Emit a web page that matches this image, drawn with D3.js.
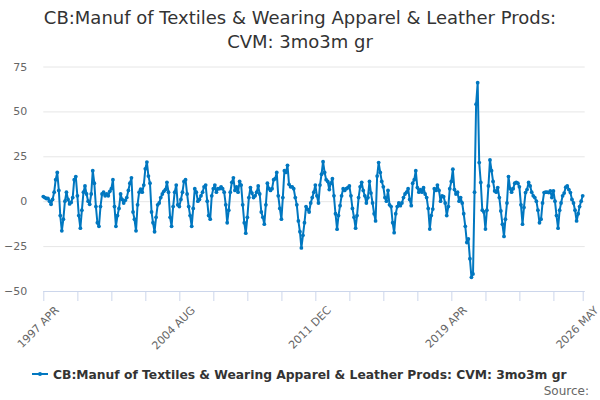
<!DOCTYPE html>
<html>
<head>
<meta charset="utf-8">
<script src="https://cdn.jsdelivr.net/npm/d3@7"></script>
<style>
	body { margin: 0; background: #fff; }
	text { font-family: "DejaVu Sans", sans-serif; }
</style>
</head>
<body>
<div class="canvas"></div>
<script>
const titleLines = ['CB:Manuf of Textiles & Wearing Apparel & Leather Prods:', 'CVM: 3mo3m gr'];
const seriesName = 'CB:Manuf of Textiles & Wearing Apparel & Leather Prods: CVM: 3mo3m gr';

// first observation, monthly after that
const startYear = 1997;
const startMonth = 3; // April (0-based)

// month-on-month values, 1997 APR .. 2026 MAY
const values = [
	2.6, 2, 1.5, 1.5, 0, -1.7, 1, 5, 12, 16, 6, -8,
	-16.5, -10, 0, 5, 1, -1.5, -0.7, 2, 12, 13.7, 3, -8,
	-15, -5, 5, 8.5, 4, 0, -1.7, 4, 17, 10, -3, -12,
	-14, -3, 4, 5, 3, 4, 3, 5.5, 7, 12, -3, -14,
	-8, -4, 4, 1, -1, 0.5, 2, 6, 10, 13, -6, -10,
	-16.5, -2, 5, 6.7, 5, 9, 18, 21.8, 14, 10, -6, -12,
	-17, -9, -2, -1, 2, 4, 5.5, 6.5, 10.5, 5, -9, -14,
	-3, 5, 9, -2, -3, 1, 5, 11, 12, 4, -3, -8,
	-14, -4, 7, 5, 0, 1, 3, 5, 8, 9, 0, -8,
	-10, 3, 7, 9, 5, 7, 7, 8, 7, 5, -2, -12,
	-5, 5, 10.5, 13, 6, 8, 5, 11, 9, -2, -12, -17.8,
	-9, 2, 7.6, 4.5, 2, 3, 5, 8.5, 4, -6, -9, -12.8,
	-2, 10, 7, 6, 7, 12, 12.5, 16, 3, -4, -10, 2,
	17, 16, 20, 9.4, 8, 8, 7, 2, -2, -11, -17, -26,
	-19, -12, -3, -4.5, -6, -1, 2, 5, 9, 3, -1, 9,
	15, 22, 16, 12, 11, 6.5, 10, 12.5, 3, -7, -15.6, -8,
	-2.5, 3, 7, 6, 7, 7.5, 8.5, 3, -4, -9, -15, -8,
	2, 8, 10.5, 6, 3, -1, 2, 11, 4.5, -1, -7, -11,
	14, 21.5, 16, 11, 8, 2, 0, 6, -2, -3, -12, -17.5,
	-7, -3, -1, -2.5, -1, 2, 4, 5, 7, 1, -2.5, 10,
	12, 17, 7.6, 5, 6.5, 5, 7.5, 4, 2, -4, -15.5, -8,
	-4.4, 7, 6, 9, 6, 0, 3, 2.5, -1, -8, -3, 7,
	11, 17.8, 6.5, 4, 5, 0, 2, -1, -7, -14, -23, -21,
	-32, -42.4, -40.5, 5, 54, 66, 21.5, 10.4, -5, -6, -15.5, -5,
	8.5, 23, 17, 11, 5.7, 5, 7.6, 2, -5.4, -12.8, -19.6, -10,
	-1, 13.7, 7, 5, 7, 10, 10.5, 10, 8, -2, -12.8, -3.5,
	4.8, 6.5, 10.4, 8.5, 5, 3, 2, 0, -5, -12, -10, -1,
	4.8, 5, 5, 4.8, 5.7, 2, 5.7, 0, -8, -15, -5, -1,
	3, 4.5, 7.8, 8.5, 6.5, 4.8, 1, -1, -5, -11, -7, -3,
	0, 3
];

const yTicks = [-50, -25, 0, 25, 50, 75];
const xTickStep = 22;   // months between tick marks
const xLabelStep = 88;  // months between labels
const monthNames = ['JAN', 'FEB', 'MAR', 'APR', 'MAY', 'JUN', 'JUL', 'AUG', 'SEP', 'OCT', 'NOV', 'DEC'];

const dims = { width: 600, height: 400 };
const plot = { left: 43.3, right: 582.7, top: 66.5, bottom: 291 };

const data = values.map((v, i) => ({ date: new Date(startYear, startMonth + i, 1), value: v }));
const lastIndex = values.length - 1;

const svg = d3.select('.canvas').append('svg')
	.attr('width', dims.width)
	.attr('height', dims.height);

const x = d3.scaleTime()
	.domain([data[0].date, data[lastIndex].date])
	.range([plot.left, plot.right]);

const y = d3.scaleLinear()
	.domain([-50, 75])
	.range([plot.bottom, plot.top]);

// title
svg.append('text')
	.attr('x', dims.width / 2)
	.attr('y', 24)
	.attr('text-anchor', 'middle')
	.attr('fill', '#333')
	.attr('font-size', 18)
	.selectAll('tspan')
	.data(titleLines)
	.enter().append('tspan')
	.attr('x', dims.width / 2)
	.attr('dy', (d, i) => i ? 24 : 0)
	.text(d => d);

// gridlines + y labels
const yAxis = svg.append('g')
	.attr('transform', `translate(${plot.left}, 0)`)
	.call(d3.axisLeft(y).tickValues(yTicks).tickSize(-(plot.right - plot.left + 2)).tickPadding(16));

yAxis.select('.domain').remove();
yAxis.selectAll('line').attr('stroke', '#e6e6e6');
yAxis.selectAll('text')
	.attr('fill', '#666')
	.attr('font-size', 11)
	.attr('font-family', '"DejaVu Sans", sans-serif');

// x axis
const tickIdx = d3.range(0, lastIndex, xTickStep).concat([lastIndex]);
const xAxis = svg.append('g')
	.attr('transform', `translate(0, ${plot.bottom})`)
	.call(d3.axisBottom(x)
		.tickValues(tickIdx.map(i => data[i].date))
		.tickSize(10)
		.tickFormat((d, i) => {
			const idx = tickIdx[i];
			if (idx % xLabelStep === 0 || idx === lastIndex) {
				return `${d.getFullYear()} ${monthNames[d.getMonth()]}`;
			}
			return '';
		}));

xAxis.select('.domain')
	.attr('stroke', '#ccd6eb')
	.attr('d', `M${plot.left},0.5H${plot.right + 2}`);
xAxis.selectAll('line').attr('stroke', '#ccd6eb');
xAxis.selectAll('text')
	.attr('fill', '#666')
	.attr('font-size', 11)
	.attr('font-family', '"DejaVu Sans", sans-serif')
	.attr('text-anchor', 'end')
	.attr('dy', '0.35em')
	.attr('transform', 'translate(4, 8) rotate(-45)');

// series
const colour = '#0077c0';

const line = d3.line()
	.x(d => x(d.date))
	.y(d => y(d.value));

svg.append('path')
	.datum(data)
	.attr('fill', 'none')
	.attr('stroke', colour)
	.attr('stroke-width', 2)
	.attr('stroke-linejoin', 'round')
	.attr('d', line);

svg.append('g')
	.selectAll('circle')
	.data(data)
	.enter().append('circle')
	.attr('cx', d => x(d.date))
	.attr('cy', d => y(d.value))
	.attr('r', 1.9)
	.attr('fill', colour);

// legend
const legend = svg.append('g')
	.attr('transform', 'translate(32, 374)');

legend.append('line')
	.attr('x1', 0).attr('x2', 16)
	.attr('stroke', colour)
	.attr('stroke-width', 2);

legend.append('circle')
	.attr('cx', 8)
	.attr('r', 2)
	.attr('fill', colour);

legend.append('text')
	.attr('x', 21)
	.attr('y', 5)
	.attr('font-size', 12.3)
	.attr('font-weight', 'bold')
	.attr('fill', '#333')
	.text(seriesName);

svg.append('text')
	.attr('x', 589)
	.attr('y', 395)
	.attr('text-anchor', 'end')
	.attr('font-size', 12)
	.attr('fill', '#666')
	.text('Source:');
</script>
</body>
</html>
